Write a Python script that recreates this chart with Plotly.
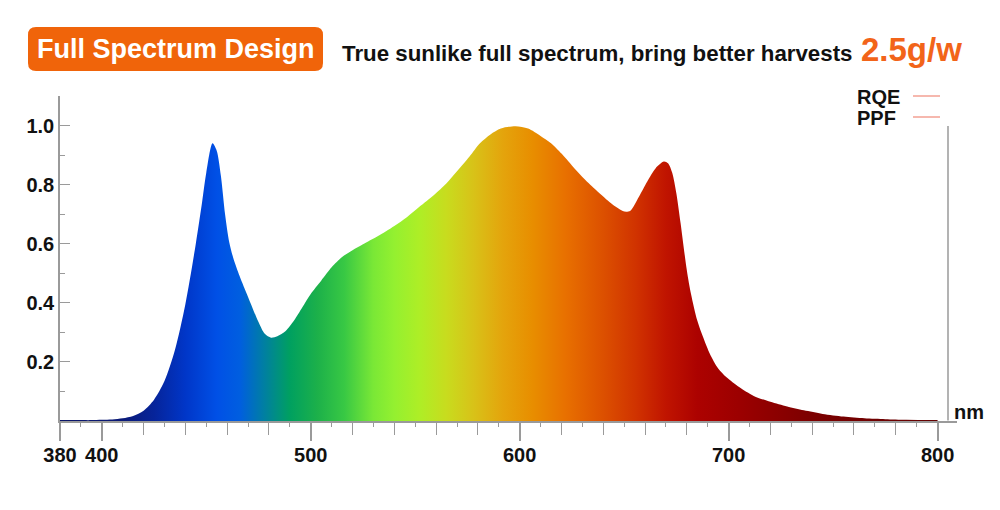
import plotly.graph_objects as go

# ---------------- data ----------------
wavelength = [380, 385, 390, 395, 400, 405, 410, 415, 420, 425, 430, 435, 440, 445, 448,
              450, 453, 455, 457, 459, 461, 463, 466, 470, 475, 478, 481, 484, 488, 492,
              496, 500, 505, 510, 515, 520, 525, 532, 540, 546, 552, 559, 565, 570, 576,
              581, 586, 591, 598, 604, 610, 615, 620, 625, 630, 636, 642, 646, 650, 653,
              657, 661, 665, 669, 671, 673, 675, 677, 680, 682, 685, 688, 691, 695, 699,
              705, 712, 720, 728, 736, 745, 755, 765, 775, 785, 800]
intensity = [0.003, 0.003, 0.003, 0.003, 0.004, 0.005, 0.009, 0.017, 0.035, 0.072, 0.135, 0.24, 0.395, 0.60, 0.74,
             0.84, 0.94, 0.915, 0.83, 0.70, 0.605, 0.55, 0.49, 0.42, 0.335, 0.295, 0.282, 0.287, 0.305, 0.34,
             0.385, 0.43, 0.475, 0.52, 0.555, 0.578, 0.598, 0.625, 0.66, 0.69, 0.725, 0.765, 0.805, 0.845, 0.895,
             0.94, 0.97, 0.99, 0.998, 0.99, 0.965, 0.94, 0.905, 0.865, 0.826, 0.785, 0.747, 0.725, 0.709, 0.712,
             0.758, 0.81, 0.855, 0.878, 0.872, 0.84, 0.77, 0.67, 0.51, 0.43, 0.34, 0.28, 0.228, 0.178, 0.148,
             0.115, 0.085, 0.065, 0.049, 0.036, 0.024, 0.015, 0.009, 0.006, 0.004, 0.003]

color_stop_nm = [380, 410, 425, 440, 455, 466, 478, 490, 503, 516, 530, 540, 552, 565, 578,
                 592, 606, 622, 640, 656, 670, 685, 705, 740, 800]
color_stop_hex = ['#0a1466', '#0a1a78', '#06249a', '#0036c8', '#0050e6', '#005ee0', '#0080a0',
                  '#00a060', '#1cb04a', '#38c844', '#7ae836', '#94f030', '#aeee26', '#c8dc1e',
                  '#d8c218', '#e4a40c', '#e88e00', '#e87000', '#dc5000', '#d03200', '#c01400',
                  '#ac0200', '#9c0000', '#7c0000', '#620000']

x_tick_major = [380, 400, 500, 600, 700, 800]
x_tick_mid = [420, 440, 460, 480, 520, 540, 560, 580, 620, 640, 660, 680, 720, 740, 760, 780]
x_tick_minor = [390, 410, 430, 450, 470, 490, 510, 530, 550, 570, 590, 610, 630, 650, 670, 690,
                710, 730, 750, 770, 790]
y_tick_major = [0.2, 0.4, 0.6, 0.8, 1.0]
y_tick_minor = [0.1, 0.3, 0.5, 0.7, 0.9]

title_text = "Full Spectrum Design"
subtitle_text = "True sunlike full spectrum, bring better harvests"
highlight_text = "2.5g/w"
legend_names = ["RQE", "PPF"]
unit_text = "nm"

# ---------------- layout geometry ----------------
OFF = 8  # page body margin offset
W, H = 1000, 510
PW, PH = 897, 325
ML = 60 - OFF
MT = 96 - OFF
MR = W - ML - PW
MB = H - MT - PH
X0, X1 = 380, 809.3
Y0, Y1 = 0, 1.1


def px(xp):
    return (xp - OFF - ML) / PW


def py(yp):
    return (MT + PH - (yp - OFF)) / PH


span = color_stop_nm[-1] - color_stop_nm[0]
colorscale = [[(n - color_stop_nm[0]) / span, c] for n, c in zip(color_stop_nm, color_stop_hex)]

FONT = "Liberation Sans, Arial, sans-serif"
AXC = "#9a9a9a"

fig = go.Figure()
fig.add_trace(go.Scatter(
    x=wavelength, y=intensity, mode="lines",
    line=dict(width=0, shape="spline", smoothing=0.8, color="rgba(0,0,0,0)"),
    fill="tozeroy",
    fillgradient=dict(type="horizontal", colorscale=colorscale,
                      start=color_stop_nm[0], stop=color_stop_nm[-1]),
    showlegend=False, hoverinfo="skip"))
fig.add_trace(go.Scatter(x=[], y=[], xaxis="x2", showlegend=False))

fig.update_layout(
    width=W, height=H, autosize=False,
    margin=dict(l=ML, r=MR, t=MT, b=MB),
    paper_bgcolor="white", plot_bgcolor="white",
    showlegend=False,
    font=dict(family=FONT, color="#111111"),
    xaxis=dict(range=[X0, X1], showgrid=False, zeroline=False,
               showline=True, linecolor=AXC, linewidth=1.5,
               tickmode="array", tickvals=x_tick_major,
               ticktext=[str(v) for v in x_tick_major],
               ticks="outside", ticklen=18, tickwidth=1.5, tickcolor=AXC,
               ticklabelstandoff=-3,
               tickfont=dict(family=FONT, size=20, color="#111111", weight="bold"),
               minor=dict(tickmode="array", tickvals=x_tick_mid, ticks="outside",
                          ticklen=12, tickwidth=1.2, tickcolor=AXC, showgrid=False)),
    xaxis2=dict(range=[X0, X1], overlaying="x", anchor="y", side="bottom",
                showgrid=False, zeroline=False, showline=False, showticklabels=False,
                tickmode="array", tickvals=x_tick_minor, ticks="outside",
                ticklen=5, tickwidth=1.2, tickcolor=AXC),
    yaxis=dict(range=[Y0, Y1], showgrid=False, zeroline=False,
               showline=True, linecolor=AXC, linewidth=1.5,
               tickmode="array", tickvals=y_tick_major,
               ticktext=[f"{v:.1f}" for v in y_tick_major],
               ticks="inside", ticklen=10, tickwidth=1.2, tickcolor=AXC,
               tickfont=dict(family=FONT, size=20, color="#111111", weight="bold"),
               ticklabelstandoff=0,
               minor=dict(tickmode="array", tickvals=y_tick_minor, ticks="inside",
                          ticklen=5, tickwidth=1.2, tickcolor=AXC, showgrid=False)),
)

# right frame line
fig.add_shape(type="line", xref="paper", yref="paper",
              x0=px(948), x1=px(948), y0=py(420.5), y1=py(126),
              line=dict(color=AXC, width=1.5))

# rounded title box
bx0, bx1, by0, by1, r = 28, 323, 27, 71, 8
path = (f"M {px(bx0 + r)},{py(by0)} L {px(bx1 - r)},{py(by0)} "
        f"Q {px(bx1)},{py(by0)} {px(bx1)},{py(by0 + r)} "
        f"L {px(bx1)},{py(by1 - r)} Q {px(bx1)},{py(by1)} {px(bx1 - r)},{py(by1)} "
        f"L {px(bx0 + r)},{py(by1)} Q {px(bx0)},{py(by1)} {px(bx0)},{py(by1 - r)} "
        f"L {px(bx0)},{py(by0 + r)} Q {px(bx0)},{py(by0)} {px(bx0 + r)},{py(by0)} Z")
fig.add_shape(type="path", xref="paper", yref="paper", path=path,
              fillcolor="#f0640a", line=dict(width=0), layer="above")

fig.add_annotation(xref="paper", yref="paper", x=px(175.5), y=py(49),
                   text=title_text, showarrow=False, xanchor="center", yanchor="middle",
                   font=dict(family=FONT, size=27, color="white", weight="bold"))
fig.add_annotation(xref="paper", yref="paper", x=px(340), y=py(53),
                   text=subtitle_text, showarrow=False, xanchor="left", yanchor="middle",
                   font=dict(family=FONT, size=22.3, color="#111111", weight="bold"))
fig.add_annotation(xref="paper", yref="paper", x=px(859), y=py(50),
                   text=highlight_text, showarrow=False, xanchor="left", yanchor="middle",
                   font=dict(family=FONT, size=33, color="#f26419", weight="bold"))

# legend-like labels
for name, yc in zip(legend_names, [97, 118]):
    fig.add_annotation(xref="paper", yref="paper", x=px(855), y=py(yc),
                       text=name, showarrow=False, xanchor="left", yanchor="middle",
                       font=dict(family=FONT, size=20, color="#111111", weight="bold"))
    fig.add_shape(type="line", xref="paper", yref="paper",
                  x0=px(913), x1=px(940), y0=py(yc - 1), y1=py(yc - 1),
                  line=dict(color="#f08878", width=1.2))

fig.add_annotation(xref="paper", yref="paper", x=px(952), y=py(412),
                   text=unit_text, showarrow=False, xanchor="left", yanchor="middle",
                   font=dict(family=FONT, size=20, color="#111111", weight="bold"))

fig.write_html("out.html")
